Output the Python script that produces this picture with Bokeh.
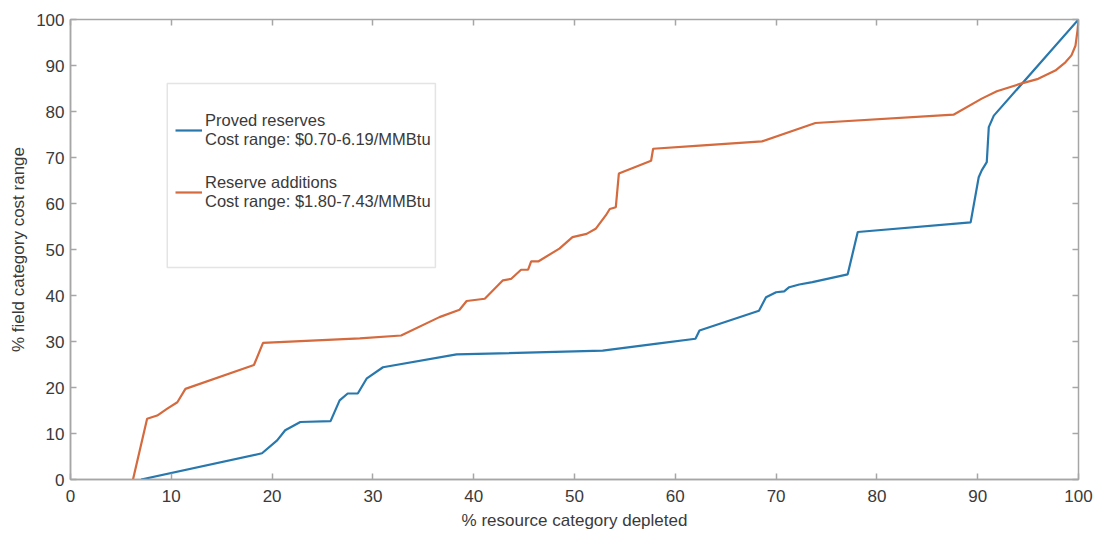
from bokeh.plotting import figure
from bokeh.models import (Range1d, LinearAxis, FixedTicker, Legend, LegendItem,
                          BoxAnnotation, CustomLabelingPolicy)
from bokeh.embed import file_html
from bokeh.resources import INLINE

# Cost-supply curves: share of category cost range vs. share of resource depleted
proved_x = [7.0, 19.0, 20.5, 21.3, 22.8, 25.8, 26.7, 27.5, 28.5, 29.4, 31.0, 38.3,
            52.8, 58.4, 62.0, 62.4, 68.3, 69.0, 70.0, 70.8, 71.3, 72.3, 73.6, 77.1,
            78.1, 89.3, 90.1, 90.4, 90.9, 91.1, 91.6, 100.0]
proved_y = [0.0, 5.7, 8.5, 10.7, 12.5, 12.7, 17.2, 18.7, 18.7, 22.0, 24.4, 27.2,
            28.0, 29.6, 30.6, 32.4, 36.7, 39.6, 40.7, 40.9, 41.8, 42.4, 42.9, 44.6,
            53.8, 55.9, 65.7, 67.2, 69.0, 76.6, 79.1, 100.0]

additions_x = [6.2, 7.6, 8.6, 9.6, 10.6, 11.4, 18.2, 19.1, 28.7, 32.8, 36.6, 38.6,
               39.3, 41.1, 42.9, 43.7, 44.7, 45.4, 45.7, 46.4, 48.5, 49.8, 51.2, 52.1,
               53.1, 53.5, 54.1, 54.4, 57.6, 57.8, 62.4, 68.6, 73.9, 87.6, 90.4, 91.9,
               94.2, 96.0, 97.7, 98.7, 99.3, 99.7, 99.9, 100.0]
additions_y = [0.0, 13.2, 13.9, 15.4, 16.8, 19.7, 24.9, 29.7, 30.7, 31.3, 35.3, 36.9,
               38.8, 39.3, 43.3, 43.6, 45.6, 45.6, 47.4, 47.4, 50.2, 52.7, 53.4, 54.5,
               57.4, 58.8, 59.2, 66.5, 69.3, 71.9, 72.6, 73.5, 77.5, 79.3, 82.8, 84.4,
               86.0, 87.1, 88.9, 90.7, 92.2, 94.3, 97.6, 100.0]

ticks = [0, 10, 20, 30, 40, 50, 60, 70, 80, 90, 100]
proved_label = "Proved reserves\nCost range: $0.70-6.19/MMBtu"
additions_label = "Reserve additions\nCost range: $1.80-7.43/MMBtu"

FONT = "Liberation Sans"
BOX = "#a6a6a6"
TXT = "#3a3a3a"
BLUE = "#2878ad"
ORANGE = "#d46a3e"

p = figure(width=1099, height=533, output_backend="svg", toolbar_location=None,
           x_range=Range1d(0, 100), y_range=Range1d(0, 100),
           min_border_left=70, min_border_right=16, min_border_top=19,
           min_border_bottom=54)
p.grid.visible = False
p.outline_line_color = BOX
p.outline_line_width = 1.5
p.background_fill_color = "white"

for ax in (p.xaxis[0], p.yaxis[0]):
    ax.ticker = FixedTicker(ticks=ticks)
    ax.axis_line_color = BOX
    ax.axis_line_width = 1.5
    ax.major_tick_in = 6
    ax.major_tick_out = 0
    ax.major_tick_line_color = BOX
    ax.major_tick_line_width = 1.5
    ax.minor_tick_line_color = None
    ax.major_label_text_font = FONT
    ax.major_label_text_font_size = "17px"
    ax.major_label_text_color = TXT
    ax.axis_label_text_font = FONT
    ax.axis_label_text_font_size = "17px"
    ax.axis_label_text_font_style = "normal"
    ax.axis_label_text_color = TXT

p.xaxis.axis_label = "% resource category depleted"
p.yaxis.axis_label = "% field category cost range"
p.xaxis.major_label_standoff = 10
p.xaxis.axis_label_standoff = 6
p.yaxis.major_label_standoff = 6
p.yaxis.axis_label_standoff = 5

# tick marks (no labels) on the top and right edges of the box
no_labels = CustomLabelingPolicy(code="return []")
for side in ("above", "right"):
    a = LinearAxis(ticker=FixedTicker(ticks=ticks), major_label_policy=no_labels)
    a.axis_line_color = BOX
    a.major_tick_in = 6
    a.major_tick_out = 0
    a.major_tick_line_color = BOX
    a.major_tick_line_width = 1.5
    a.minor_tick_line_color = None
    a.major_label_standoff = 0
    p.add_layout(a, side)

r1 = p.line(proved_x, proved_y, line_color=BLUE, line_width=2.2)
r2 = p.line(additions_x, additions_y, line_color=ORANGE, line_width=2.2)

# legend frame
p.add_layout(BoxAnnotation(left=9.6, right=36.2, bottom=46.1, top=86.1,
                           fill_color="white", fill_alpha=1.0,
                           line_color=BOX, line_width=1.5, level="annotation"))

legend = Legend(items=[LegendItem(label=proved_label, renderers=[r1]),
                       LegendItem(label=additions_label, renderers=[r2])],
                location=(105, 268))
legend.border_line_color = None
legend.background_fill_alpha = 0.0
legend.label_text_font = FONT
legend.label_text_font_size = "16.5px"
legend.label_text_color = TXT
legend.label_text_line_height = 1.38
legend.glyph_width = 27
legend.padding = 9
legend.margin = 0
legend.spacing = 24
legend.label_standoff = 3
p.add_layout(legend, "center")

open("out.html", "w").write(file_html(p, INLINE))
